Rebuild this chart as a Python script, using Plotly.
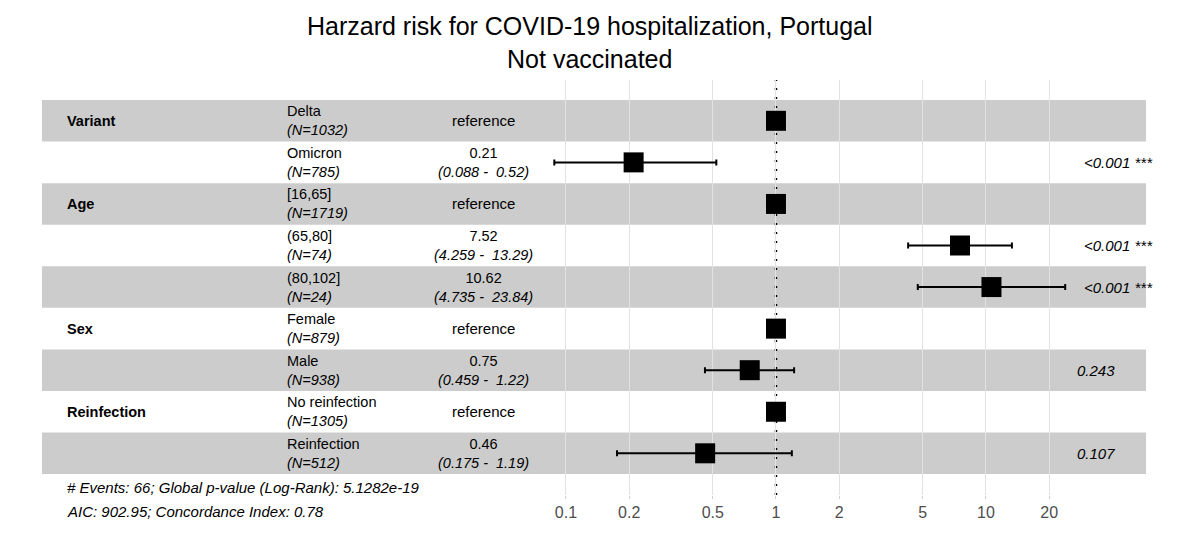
import plotly.graph_objects as go

# forest plot data (Cox model, not vaccinated)
variables = ["Variant", "", "Age", "", "", "Sex", "", "Reinfection", ""]
levels = ["Delta", "Omicron", "[16,65]", "(65,80]", "(80,102]",
          "Female", "Male", "No reinfection", "Reinfection"]
n_obs = [1032, 785, 1719, 74, 24, 879, 938, 1305, 512]
hr = [1, 0.21, 1, 7.52, 10.62, 1, 0.75, 1, 0.46]
ci_low = [None, 0.088, None, 4.259, 4.735, None, 0.459, None, 0.175]
ci_high = [None, 0.52, None, 13.29, 23.84, None, 1.22, None, 1.19]
p_labels = ["", "<0.001 ***", "", "<0.001 ***", "<0.001 ***", "", "0.243", "", "0.107"]
ticks = [0.1, 0.2, 0.5, 1, 2, 5, 10, 20]

title = "Harzard risk for COVID-19 hospitalization, Portugal<br>Not vaccinated"
note1 = "# Events: 66; Global p-value (Log-Rank): 5.1282e-19"
note2 = "AIC: 902.95; Concordance Index: 0.78"

OFF = 8  # page body margin
W, H = 1172, 552
ML, MR, MT, MB = 34, 34, 72, 65
FONT = "Liberation Sans, Arial, sans-serif"


def px2paper(px):
    return (px - OFF - ML) / (W - ML - MR)


def py2paper(py):
    return (H - MB - (py - OFF)) / (H - MT - MB)


rows = list(range(1, len(levels) + 1))
ref_idx = [i for i in range(len(hr)) if ci_low[i] is None]
est_idx = [i for i in range(len(hr)) if ci_low[i] is not None]

fig = go.Figure()

fig.add_trace(go.Scatter(
    x=[hr[i] for i in ref_idx], y=[rows[i] for i in ref_idx],
    mode="markers",
    marker=dict(symbol="square", size=20, color="black"),
    hoverinfo="skip", showlegend=False))

fig.add_trace(go.Scatter(
    x=[hr[i] for i in est_idx], y=[rows[i] for i in est_idx],
    mode="markers",
    marker=dict(symbol="square", size=20, color="black"),
    error_x=dict(type="data", symmetric=False,
                 array=[ci_high[i] - hr[i] for i in est_idx],
                 arrayminus=[hr[i] - ci_low[i] for i in est_idx],
                 color="black", thickness=2, width=3),
    hoverinfo="skip", showlegend=False))

shapes = []
for i, r in enumerate(rows):
    if i % 2 == 0:
        shapes.append(dict(type="rect", xref="paper", yref="y",
                           x0=0, x1=1, y0=r - 0.5, y1=r + 0.5,
                           fillcolor="rgba(0,0,0,0.2)", line_width=0,
                           layer="between"))
shapes.append(dict(type="line", xref="x", yref="paper", x0=1, x1=1, y0=0, y1=1,
                   line=dict(color="black", width=2.5, dash="2px,7px"),
                   layer="between"))


def txt(x, y, text, anchor="center", size=14, yref="y"):
    return dict(x=x, y=y, xref="paper", yref=yref, text=text,
                xanchor=anchor, yanchor="middle", align=anchor if anchor != "right" else "right",
                showarrow=False, font=dict(size=size, color="black"))


ann = []
for i, r in enumerate(rows):
    if variables[i]:
        ann.append(txt(px2paper(65), r, "<b>" + variables[i] + "</b>", "left", 14.5))
    ann.append(txt(px2paper(285), r, levels[i] + "<br><i>(N=%d)</i>" % n_obs[i], "left", 14.5))
    if ci_low[i] is None:
        ann.append(txt(px2paper(483), r, "reference", size=15))
    else:
        ann.append(txt(px2paper(483), r,
                       "%g<br><i>(%g -  %g)</i>" % (hr[i], ci_low[i], ci_high[i]), size=14.5))
    if p_labels[i]:
        cx = 1118 if "*" in p_labels[i] else 1096
        ann.append(txt(px2paper(cx), r, "<i>" + p_labels[i] + "</i>", size=15))

ann.append(txt(px2paper(590), py2paper(42), title, size=25, yref="paper"))
ann.append(txt(px2paper(65), py2paper(487), "<i>" + note1 + "</i>", "left", 15, "paper"))
ann.append(txt(px2paper(65), py2paper(511), "<i>" + note2 + "</i>", "left", 15, "paper"))

fig.update_layout(
    width=W, height=H,
    margin=dict(l=ML, r=MR, t=MT, b=MB),
    plot_bgcolor="white", paper_bgcolor="white",
    font=dict(family=FONT, color="black"),
    shapes=shapes, annotations=ann,
    xaxis=dict(type="log", range=[-3.495, 1.762],
               tickvals=ticks, ticktext=[str(t) for t in ticks],
               showgrid=True, gridcolor="#e2e2e2", gridwidth=1,
               ticks="outside", ticklen=3, tickcolor="#d0d0d0",
               tickfont=dict(size=16, color="#4d4d4d"),
               showline=False, zeroline=False, fixedrange=True),
    yaxis=dict(range=[10.003, 0.018], showticklabels=False, showgrid=False,
               zeroline=False, showline=False, fixedrange=True),
)

fig.write_html("out.html")
